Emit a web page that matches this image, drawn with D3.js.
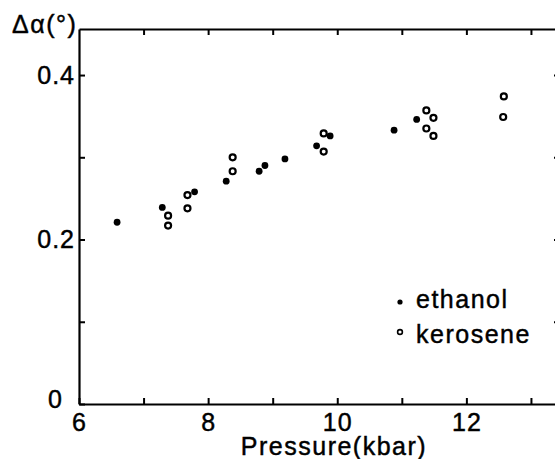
<!DOCTYPE html>
<html>
<head>
<meta charset="utf-8">
<script src="https://cdn.jsdelivr.net/npm/d3@7"></script>
<style>
  html, body { margin: 0; padding: 0; background: #fff; }
  svg text { font-family: "Liberation Sans", Arial, sans-serif; fill: #000; stroke: #000; stroke-width: 0.45px; letter-spacing: 1.5px; }
</style>
</head>
<body>
<div id="chart"></div>
<script>
// data
const ethanolP = [6.59, 7.29, 7.79, 8.28, 8.79, 8.88, 9.19, 9.68, 9.89, 10.88, 11.23];
const ethanolDa = [0.221, 0.239, 0.258, 0.271, 0.283, 0.290, 0.298, 0.314, 0.326, 0.333, 0.346];
const keroseneP = [7.38, 7.38, 7.68, 7.68, 8.38, 8.38, 9.79, 9.79, 11.38, 11.49, 11.38, 11.49, 12.58, 12.57];
const keroseneDa = [0.229, 0.217, 0.254, 0.238, 0.300, 0.283, 0.307, 0.329, 0.357, 0.348, 0.335, 0.326, 0.374, 0.349];

const xTicks = [6, 7, 8, 9, 10, 11, 12, 13];
const xLabels = [6, 8, 10, 12];
const yTicks = [0, 0.1, 0.2, 0.3, 0.4];
const yLabels = [0.2, 0.4];

const width = 555;
const height = 459;
const svg = d3.select("#chart").append("svg")
    .attr("width", width)
    .attr("height", height);

// plot frame (right edge sits just outside the picture, like the scan)
const plotLeft = 79, plotRight = 560, plotTop = 29, plotBottom = 404;
const x = d3.scaleLinear().domain([6, 13.45]).range([plotLeft, plotRight]);
const y = d3.scaleLinear().domain([0, 0.456]).range([plotBottom, plotTop]);

// inward ticks on all four sides
const fmtX = d => xLabels.includes(d) ? d3.format("d")(d) : "";
svg.append("g")
    .attr("transform", `translate(0,${plotBottom})`)
    .call(d3.axisBottom(x).tickValues(xTicks).tickSize(-6).tickSizeOuter(0).tickPadding(9).tickFormat(fmtX));

svg.append("g")
    .attr("transform", `translate(0,${plotTop})`)
    .call(d3.axisTop(x).tickValues(xTicks.slice(1)).tickSize(-6).tickSizeOuter(0).tickFormat(""));

const yAxis = svg.append("g")
    .attr("transform", `translate(${plotLeft},0)`)
    .call(d3.axisLeft(y).tickValues(yTicks).tickSize(-6).tickSizeOuter(0).tickPadding(4)
        .tickFormat(d => yLabels.includes(d) ? d3.format(".1f")(d) : (d === 0 ? "0" : "")));

svg.append("g")
    .attr("transform", `translate(${plotRight},0)`)
    .call(d3.axisRight(y).tickValues(yTicks.slice(1)).tickSize(-6).tickSizeOuter(0).tickFormat(""));

// keep the axis lines themselves as the frame
svg.selectAll(".domain")
    .attr("stroke", "#000")
    .attr("stroke-width", 2.2);
svg.selectAll(".tick line").attr("stroke", "#000").attr("stroke-width", 2);
svg.selectAll(".tick text")
    .style("font-family", "'Liberation Sans', Arial, sans-serif")
    .style("font-size", "25px")
    .style("letter-spacing", "1px");

// the "0" on the y axis sits off to the left, a bit above the corner
yAxis.selectAll(".tick").filter(d => d === 0).select("text")
    .attr("x", -16).attr("dy", "0.15em");

// axis titles
svg.append("text")
    .attr("x", 12).attr("y", 33)
    .style("font-size", "25px")
    .text("Δα(°)");

svg.append("text")
    .attr("x", 334).attr("y", 455)
    .attr("text-anchor", "middle")
    .style("font-size", "25px")
    .text("Pressure(kbar)");

// points
svg.append("g").selectAll("circle")
    .data(ethanolP.map((p, i) => [p, ethanolDa[i]]))
    .join("circle")
    .attr("cx", d => x(d[0]))
    .attr("cy", d => y(d[1]))
    .attr("r", 3.4)
    .attr("fill", "#000");

svg.append("g").selectAll("circle")
    .data(keroseneP.map((p, i) => [p, keroseneDa[i]]))
    .join("circle")
    .attr("cx", d => x(d[0]))
    .attr("cy", d => y(d[1]))
    .attr("r", 3)
    .attr("fill", "#fff")
    .attr("stroke", "#000")
    .attr("stroke-width", 2.2);

// legend
const legend = svg.append("g").attr("transform", "translate(400,302)");
legend.append("circle").attr("cx", 0).attr("cy", 0).attr("r", 2.6).attr("fill", "#000");
legend.append("text").attr("x", 16).attr("y", 6).style("font-size", "25px").text("ethanol");
legend.append("circle").attr("cx", 0).attr("cy", 30).attr("r", 2.4)
    .attr("fill", "#fff").attr("stroke", "#000").attr("stroke-width", 1.6);
legend.append("text").attr("x", 16).attr("y", 41).style("font-size", "25px").text("kerosene");
</script>
</body>
</html>
